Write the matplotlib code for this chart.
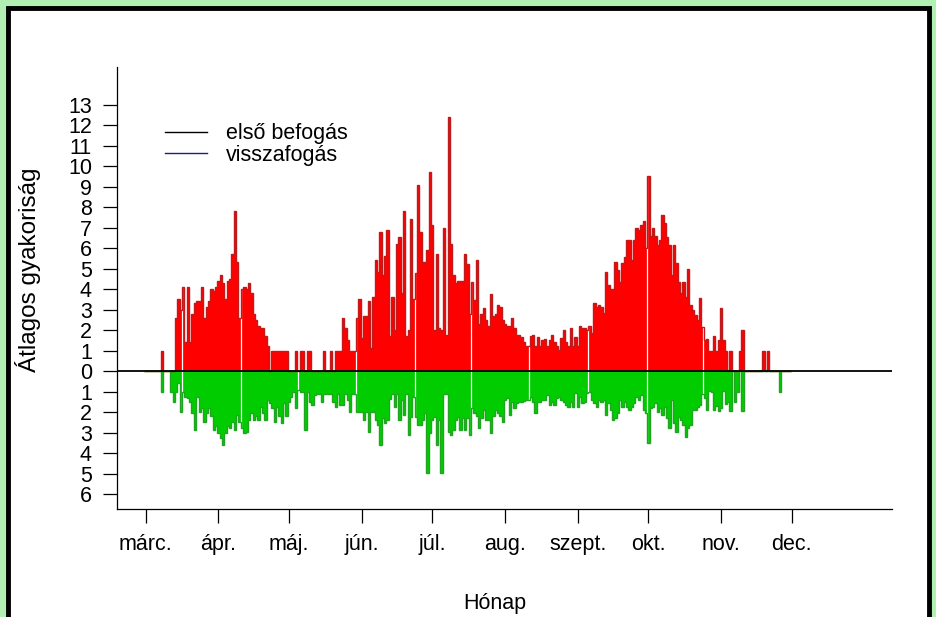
import numpy as np
import matplotlib
matplotlib.use("Agg")
import matplotlib.pyplot as plt
from matplotlib.lines import Line2D
from matplotlib.patches import Rectangle

plt.rcParams['font.family'] = ['Liberation Sans', 'DejaVu Sans']

# month labels and lengths (x axis starts at 1 March)
months = ["márc.", "ápr.", "máj.", "jún.", "júl.", "aug.", "szept.", "okt.", "nov.", "dec."]
month_len = [31, 30, 31, 30, 31, 31, 30, 31, 30]

# daily mean counts, first capture ("első befogás"), one list per month
elso_mar = [0, 0, 0, 0, 0, 0, 0, 1.0, 0, 0, 0, 0, 0, 2.6, 3.5, 3.0, 4.1, 1.4, 4.1, 1.4,
            2.8, 3.3, 3.4, 3.4, 4.1, 2.6, 3.1, 3.4, 4.0, 3.9, 4.1]
elso_apr = [4.4, 4.7, 4.3, 3.5, 4.4, 4.5, 5.7, 7.8, 5.3, 2.6, 4.0, 4.1, 4.0, 4.3, 3.8,
            2.8, 2.5, 2.2, 2.1, 2.1, 1.7, 1.2, 0, 1, 1, 1, 1, 1, 1, 1]
elso_may = [0, 0, 0, 1, 0, 1, 1, 0, 1, 1, 0, 0, 0, 0, 0, 1, 0, 0, 1, 0, 1, 1, 1, 2.6,
            2.1, 1.5, 1, 1, 1, 2.6, 3.5]
elso_jun = [1.6, 2.7, 2.7, 3.4, 1.1, 3.6, 5.4, 4.85, 6.8, 4.7, 5.6, 6.9, 1.7, 3.6, 2.0,
            6.2, 6.55, 3.8, 7.8, 1.7, 2.0, 7.4, 3.5, 4.8, 9.07, 6.8, 5.3, 5.3, 5.9, 9.7]
elso_jul = [7.1, 2.0, 5.7, 2.1, 2.0, 7.0, 1.75, 12.4, 6.2, 4.7, 4.3, 4.4, 4.4, 4.4, 5.7,
            5.2, 2.8, 4.36, 3.46, 5.4, 2.3, 2.8, 3.06, 2.5, 2.2, 3.74, 2.7, 2.8, 3.2, 3.1, 2.5]
elso_aug = [2.3, 2.2, 2.2, 2.57, 2.08, 1.76, 1.76, 1.67, 1.43, 1.2, 1.2, 1.7, 1.76, 1.2,
            1.67, 1.2, 1.5, 1.57, 1.2, 1.5, 1.76, 1.43, 1.2, 1.02, 1.6, 2.0, 1.43, 1.2,
            2.1, 1.2, 1.67]
elso_sep = [1.2, 2.2, 2.1, 2.1, 2.0, 2.2, 1.87, 3.33, 3.14, 3.2, 3.14, 2.85, 4.85, 4.2,
            3.98, 4.0, 5.33, 4.93, 4.36, 5.25, 5.58, 6.4, 6.4, 5.4, 6.4, 7.0, 6.9, 7.1, 7.3, 6.0]
elso_oct = [9.5, 6.6, 7.0, 6.6, 6.15, 6.4, 7.6, 7.2, 6.55, 6.15, 4.7, 6.15, 5.25, 4.36,
            3.8, 4.36, 3.63, 4.96, 3.22, 2.98, 2.73, 2.5, 3.54, 2.16, 1.5, 1.54, 1.0, 1.0,
            1.7, 1.0, 1.5]
elso_nov = [3.06, 1.5, 1.0, 0, 1.0, 0, 0, 0, 1.0, 2.0, 0, 0, 0, 0, 0, 0, 0, 0, 1.0, 0,
            1.0, 0, 0, 0, 0, 0, 0, 0, 0, 0]

# daily mean counts, recapture ("visszafogás")
vissza_mar = [0, 0, 0, 0, 0, 0, 0, 1.0, 0, 0, 0, 1.0, 1.5, 1.0, 0.6, 2.0, 1.0, 1.25, 1.3,
              1.5, 2.07, 2.88, 1.25, 2.0, 1.8, 2.47, 2.07, 1.8, 2.2, 2.88, 2.7]
vissza_apr = [3.04, 3.28, 3.6, 3.04, 2.7, 2.8, 2.47, 2.88, 2.15, 2.5, 2.8, 3.04, 2.95,
              2.4, 2.07, 2.4, 2.2, 2.4, 1.74, 2.07, 2.4, 1.41, 1.55, 1.8, 2.47, 1.74, 2.2,
              2.55, 1.55, 2.2]
vissza_may = [1.5, 1.25, 1.0, 1.8, 0.93, 1.0, 1.0, 2.88, 1.0, 1.5, 1.66, 1.17, 1.1, 1.1,
              1.5, 1.1, 1.1, 1.1, 1.1, 1.5, 1.74, 1.1, 1.66, 1.66, 1.1, 1.41, 1.98, 1.1,
              1.1, 1.98, 1.98]
vissza_jun = [1.98, 2.4, 1.98, 2.96, 1.98, 1.98, 2.4, 2.63, 3.6, 2.3, 2.55, 2.4, 1.35,
              1.1, 1.74, 1.1, 2.4, 1.41, 2.15, 1.1, 3.12, 2.23, 1.25, 2.23, 2.63, 2.63,
              2.4, 2.07, 4.96, 3.04]
vissza_jul = [2.4, 2.23, 3.6, 2.4, 4.96, 1.1, 1.1, 2.96, 3.12, 2.87, 2.4, 2.23, 2.87, 2.3,
              2.87, 2.3, 3.1, 1.8, 2.07, 2.2, 2.8, 2.3, 1.9, 2.4, 2.4, 3.04, 2.2, 1.9,
              2.07, 2.2, 2.47]
vissza_aug = [1.41, 1.33, 2.15, 1.5, 1.8, 1.58, 1.5, 1.5, 1.47, 1.41, 1.41, 1.25, 1.5,
              2.07, 1.5, 1.5, 1.41, 1.41, 1.17, 1.66, 1.5, 1.66, 1.33, 1.25, 1.41, 1.5,
              1.66, 1.74, 1.5, 1.74, 1.09]
vissza_sep = [1.74, 1.25, 1.58, 1.5, 1.09, 1.0, 1.41, 1.58, 1.74, 1.41, 1.5, 1.41, 2.15,
              1.58, 1.9, 2.4, 2.3, 2.07, 1.41, 1.74, 1.5, 1.74, 1.9, 1.74, 1.58, 1.25,
              1.41, 1.17, 1.9, 2.07]
vissza_oct = [3.53, 1.8, 1.74, 1.58, 1.98, 1.8, 2.15, 1.74, 2.3, 2.8, 1.41, 2.55, 2.96,
              2.23, 2.4, 2.63, 3.2, 2.8, 2.63, 1.9, 1.9, 1.74, 1.66, 1.1, 1.3, 1.9, 0.95,
              1.0, 1.9, 1.7, 1.95]
vissza_nov = [1.8, 0.95, 1.6, 1.5, 1.95, 0, 1.5, 1.0, 0, 1.95, 0, 0, 0, 0, 0, 0, 0, 0, 0,
              0, 0, 0, 0, 0, 0, 1.0, 0, 0, 0, 0]

# days where thin white separators show through the bars
gap_days = [15.3, 40.4, 64.9, 89.4, 114.5, 138.6, 163.3, 188.5, 213.2, 237.4]

elso = np.concatenate([elso_mar, elso_apr, elso_may, elso_jun, elso_jul,
                       elso_aug, elso_sep, elso_oct, elso_nov])
vissza = np.concatenate([vissza_mar, vissza_apr, vissza_may, vissza_jun, vissza_jul,
                         vissza_aug, vissza_sep, vissza_oct, vissza_nov])
edges = np.arange(len(elso) + 1) - 0.5
month_starts = np.concatenate([[0], np.cumsum(month_len)])

W, H = 937, 617
fig = plt.figure(figsize=(W / 100, H / 100), dpi=100, facecolor='#b2efb2')
# white panel with black frame (bottom edge runs off the image)
fig.add_artist(Rectangle((8 / W, -20 / H), (W - 16) / W, (H - 8 + 20) / H,
                         transform=fig.transFigure, facecolor='white',
                         edgecolor='black', linewidth=3.5, zorder=0))

ax = fig.add_axes([117 / W, 1 - 509 / H, (892 - 117) / W, (509 - 67) / H])
ax.set_facecolor('none')

# filled skyline + darker outline, like the original bar plot
ax.stairs(elso, edges, baseline=0, fill=True, color='#ff0000', lw=0, zorder=1)
ax.stairs(-vissza, edges, baseline=0, fill=True, color='#00cc00', lw=0, zorder=1)
for g in gap_days:
    ax.axvline(g, color='white', lw=0.9, zorder=1.5)
ax.stairs(elso, edges, baseline=0, fill=False, color='#c01a1a', lw=1.0, zorder=1.7)
ax.stairs(-vissza, edges, baseline=0, fill=False, color='#1fa51f', lw=1.0, zorder=1.7)
ax.axhline(0, color='black', lw=1.3, zorder=2)

ax.set_xlim(-12.2, 317.7)
ax.set_ylim(-6.73, 14.83)
for s in ['top', 'right']:
    ax.spines[s].set_visible(False)
for s in ['left', 'bottom']:
    ax.spines[s].set_linewidth(0.9)

yt = np.arange(-6, 14)
ax.set_yticks(yt)
ax.set_yticklabels([str(abs(v)) for v in yt])
ax.set_xticks(month_starts)
ax.set_xticklabels(months)
ax.tick_params(axis='both', length=10, width=0.9, labelsize=15.5)
ax.tick_params(axis='y', pad=8)
ax.tick_params(axis='x', pad=8)

handles = [Line2D([], [], color='black', lw=1.0),
           Line2D([], [], color='#1c1c8c', lw=1.0)]
ax.legend(handles, ['első befogás', 'visszafogás'], loc='center left',
          bbox_to_anchor=(165 / W, 1 - 144.5 / H), bbox_transform=fig.transFigure,
          frameon=False, fontsize=15.5, handlelength=1.94, handletextpad=0.88,
          labelspacing=0.0, borderpad=0, borderaxespad=0)

fig.text(495 / W, 1 - 604 / H, 'Hónap', ha='center', va='center', fontsize=15.5)
fig.text(28 / W, 1 - 270 / H, 'Átlagos gyakoriság', ha='center', va='center',
         rotation=90, fontsize=17.5)

fig.savefig('out.png', dpi=100, facecolor=fig.get_facecolor())
